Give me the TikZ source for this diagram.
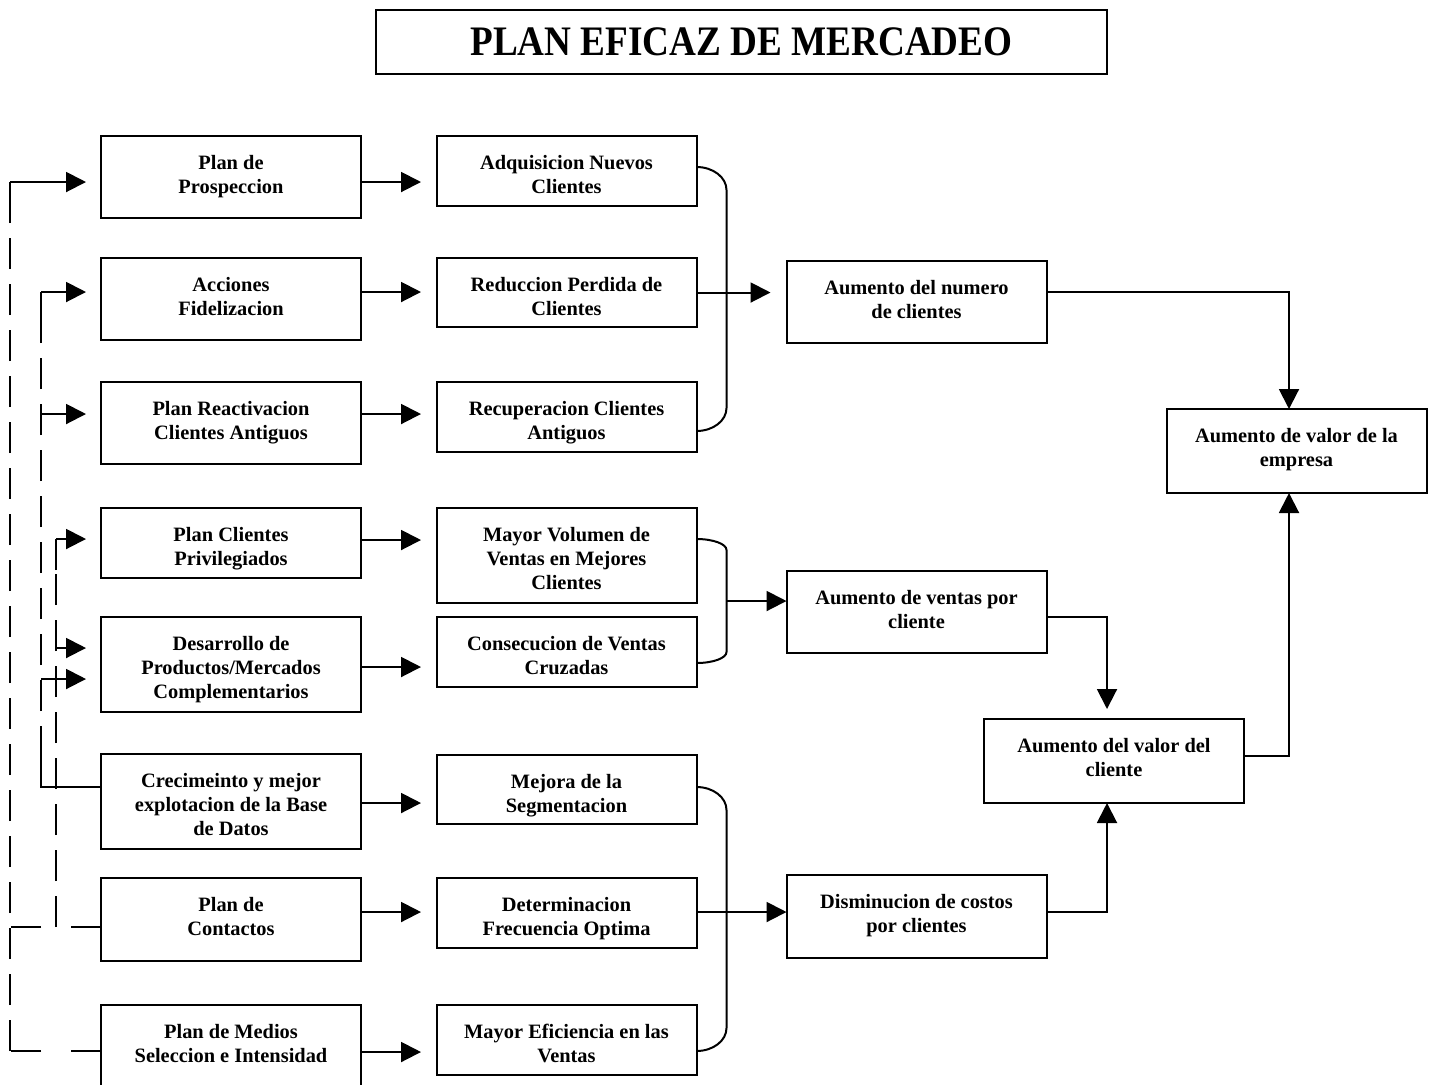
\documentclass[tikz,border=0pt]{standalone}
\usepackage{fontspec}
\usepackage{graphicx}
\setmainfont{Liberation Serif}
\usetikzlibrary{arrows.meta,calc}

% text block of a box: fixed size, lines hung from the top edge
\newcommand{\boxlines}[3]{\parbox[c][#2][t]{#1}{\centering\rule{0pt}{16.5pt}#3}}

\tikzset{
  box/.style={draw, line width=1pt, inner sep=0pt, outer sep=0pt,
              font=\fontsize{10.2}{12}\selectfont\bfseries},
  conn/.style={line width=1pt},
  arr/.style={conn, -{Triangle[length=10pt,width=10pt]}},
  dashv/.style={conn, dash pattern=on 15.5pt off 7.5pt},
  dashh/.style={conn, dash pattern=on 15pt off 15pt},
}

\begin{document}
\begin{tikzpicture}[x=0.5pt,y=-0.5pt]
\fill[white] (0,0) rectangle (1434,1084);
\useasboundingbox (0,0) rectangle (1434,1084);

% title
\node[draw, line width=1pt, inner sep=0pt, minimum width=365.5pt, minimum height=32pt] (title) at (741.5,42)
  {\raisebox{-1.5pt}{\fontsize{21}{24}\selectfont\bfseries\scalebox{0.885}[1]{PLAN EFICAZ DE MERCADEO}}};

% first column: plans
\node[box] (p1) at (231,177)    {\boxlines{130pt}{41pt}{Plan de\\Prospeccion}};
\node[box] (p2) at (231,299)    {\boxlines{130pt}{41pt}{Acciones\\Fidelizacion}};
\node[box] (p3) at (231,423)    {\boxlines{130pt}{41pt}{Plan Reactivacion\\Clientes Antiguos}};
\node[box] (p4) at (231,543)    {\boxlines{130pt}{35pt}{Plan Clientes\\Privilegiados}};
\node[box] (p5) at (231,664.5)  {\boxlines{130pt}{47.5pt}{Desarrollo de\\Productos/Mercados\\Complementarios}};
\node[box] (p6) at (231,801.5)  {\boxlines{130pt}{47.5pt}{Crecimeinto y mejor\\explotacion de la Base\\de Datos}};
\node[box] (p7) at (231,919.5)  {\boxlines{130pt}{41.5pt}{Plan de\\Contactos}};
\node[box] (p8) at (231,1046)   {\boxlines{130pt}{41pt}{Plan de Medios\\Seleccion e Intensidad}};

% second column: results
\node[box] (q1) at (566.5,171)    {\boxlines{130pt}{35pt}{Adquisicion Nuevos\\Clientes}};
\node[box] (q2) at (566.5,292.5)  {\boxlines{130pt}{34.5pt}{Reduccion Perdida de\\Clientes}};
\node[box] (q3) at (566.5,417)    {\boxlines{130pt}{35pt}{Recuperacion Clientes\\Antiguos}};
\node[box] (q4) at (566.5,555.5)  {\boxlines{130pt}{47.5pt}{Mayor Volumen de\\Ventas en Mejores\\Clientes}};
\node[box] (q5) at (566.5,652)    {\boxlines{130pt}{35pt}{Consecucion de Ventas\\Cruzadas}};
\node[box] (q6) at (566.5,789.5)  {\boxlines{130pt}{34.5pt}{Mejora de la\\Segmentacion}};
\node[box] (q7) at (566.5,913)    {\boxlines{130pt}{35pt}{Determinacion\\Frecuencia Optima}};
\node[box] (q8) at (566.5,1040)   {\boxlines{130pt}{35pt}{Mayor Eficiencia en las\\Ventas}};

% third column and outcomes
\node[box] (r1) at (916.5,302)    {\boxlines{130pt}{41pt}{Aumento del numero\\de clientes}};
\node[box] (r2) at (916.5,612)    {\boxlines{130pt}{41pt}{Aumento de ventas por\\cliente}};
\node[box] (r3) at (916.5,916.5)  {\boxlines{130pt}{41.5pt}{Disminucion de costos\\por clientes}};
\node[box] (s1) at (1114,761)     {\boxlines{130pt}{42pt}{Aumento del valor del\\cliente}};
\node[box] (s2) at (1296.5,451)   {\boxlines{130pt}{42pt}{Aumento de valor de la\\empresa}};

% plan -> result arrows
\coordinate (l1) at ([yshift=-2.5pt]p1.east);
\coordinate (l2) at ([yshift=3.5pt]p2.east);
\coordinate (l3) at ([yshift=4.5pt]p3.east);
\coordinate (l4) at ([yshift=1.5pt]p4.east);
\coordinate (l5) at ([yshift=-1.25pt]p5.east);
\coordinate (l6) at ([yshift=-0.75pt]p6.east);
\coordinate (l7) at ([yshift=3.75pt]p7.east);
\coordinate (l8) at ([yshift=-3pt]p8.east);
\draw[arr, shorten >=7.75pt] (l1) -- (l1 -| q1.west);
\draw[arr, shorten >=7.75pt] (l2) -- (l2 -| q2.west);
\draw[arr, shorten >=7.75pt] (l3) -- (l3 -| q3.west);
\draw[arr, shorten >=7.75pt] (l4) -- (l4 -| q4.west);
\draw[arr, shorten >=7.75pt] (l5) -- (l5 -| q5.west);
\draw[arr, shorten >=7.75pt] (l6) -- (l6 -| q6.west);
\draw[arr, shorten >=7.75pt] (l7) -- (l7 -| q7.west);
\draw[arr, shorten >=7.75pt] (l8) -- (l8 -| q8.west);

% bracket joining the customer-count results
\coordinate (b1t) at ([yshift=2pt]q1.east);
\coordinate (b1b) at ([yshift=-7pt]q3.east);
\draw[conn] (b1t) .. controls +(16.6,0) and +(0,-12.7) .. ++(30,23)
  -- ($(b1b)+(30,-23)$) .. controls +(0,12.7) and +(16.6,0) .. (b1b);
\coordinate (b1m) at (q2.east);
\draw[arr, shorten >=8pt] (b1m) -- (b1m -| r1.west);

% bracket joining the sales results
\coordinate (b2t) at ([yshift=8.25pt]q4.east);
\coordinate (b2b) at ([yshift=-5.5pt]q5.east);
\draw[conn] (b2t) .. controls +(16.6,0) and +(0,-6.1) .. ++(30,11)
  -- ($(b2b)+(30,-11)$) .. controls +(0,6.1) and +(16.6,0) .. (b2b);
\coordinate (b2m) at (726.5,601);
\draw[arr] (b2m) -- (b2m -| r2.west);

% bracket joining the cost results
\coordinate (b3t) at ([yshift=1.25pt]q6.east);
\coordinate (b3b) at ([yshift=-5.5pt]q8.east);
\draw[conn] (b3t) .. controls +(16.6,0) and +(0,-12.7) .. ++(30,23)
  -- ($(b3b)+(30,-23)$) .. controls +(0,12.7) and +(16.6,0) .. (b3b);
\coordinate (b3m) at ([yshift=0.5pt]q7.east);
\draw[arr] (b3m) -- (b3m -| r3.west);

% right-hand flow to company value
\draw[arr] ([yshift=5pt]r1.east) -| ([xshift=-3.75pt]s2.north);
\draw[arr, shorten >=5pt] ([yshift=-2.5pt]r2.east) -| ([xshift=-3.5pt]s1.north);
\draw[arr] ([yshift=2.25pt]r3.east) -| ([xshift=-3.5pt]s1.south);
\draw[arr] ([yshift=2.5pt]s1.east) -| ([xshift=-3.75pt]s2.south);

% outer feedback line (x = 10): media and contacts plans back to prospecting
\coordinate (a7) at ([yshift=-3.75pt]p7.west);
\coordinate (a8) at ([yshift=-2.5pt]p8.west);
\coordinate (aTop) at (10,182);
\draw[dashh] (a8) -- (10,1051);
\draw[dashh] (a7) -- (10,927);
\draw[dashv] (10,1051) -- (10,213);
\draw[conn] (10,213) -- (aTop);
\draw[arr, shorten >=7.5pt] (aTop) -- (aTop -| p1.west);

% middle feedback line (x = 41): data base plan back to loyalty plans
\coordinate (g6) at ([yshift=7.25pt]p6.west);
\coordinate (gTop) at (41,292);
\coordinate (g3) at (41,414);
\coordinate (g5) at (41,679);
\draw[dashv] (41,757) -- (41,322);
\draw[conn] (g6) -- (41,787) -- (41,757);
\draw[conn] (41,322) -- (gTop);
\draw[arr, shorten >=7.5pt] (gTop) -- (gTop -| p2.west);
\draw[arr, shorten >=7.5pt] (g3) -- (g3 -| p3.west);
\draw[arr, shorten >=7.5pt] (g5) -- (g5 -| p5.west);

% inner feedback line (x = 56): contacts plan back to privileged clients
\coordinate (cTop) at (56,539);
\coordinate (c5) at (56,648);
\draw[dashv] (56,927) -- (56,570);
\draw[conn] (56,570) -- (cTop);
\draw[arr, shorten >=7.5pt] (cTop) -- (cTop -| p4.west);
\draw[arr, shorten >=7.5pt] (c5) -- (c5 -| p5.west);
\end{tikzpicture}
\end{document}
